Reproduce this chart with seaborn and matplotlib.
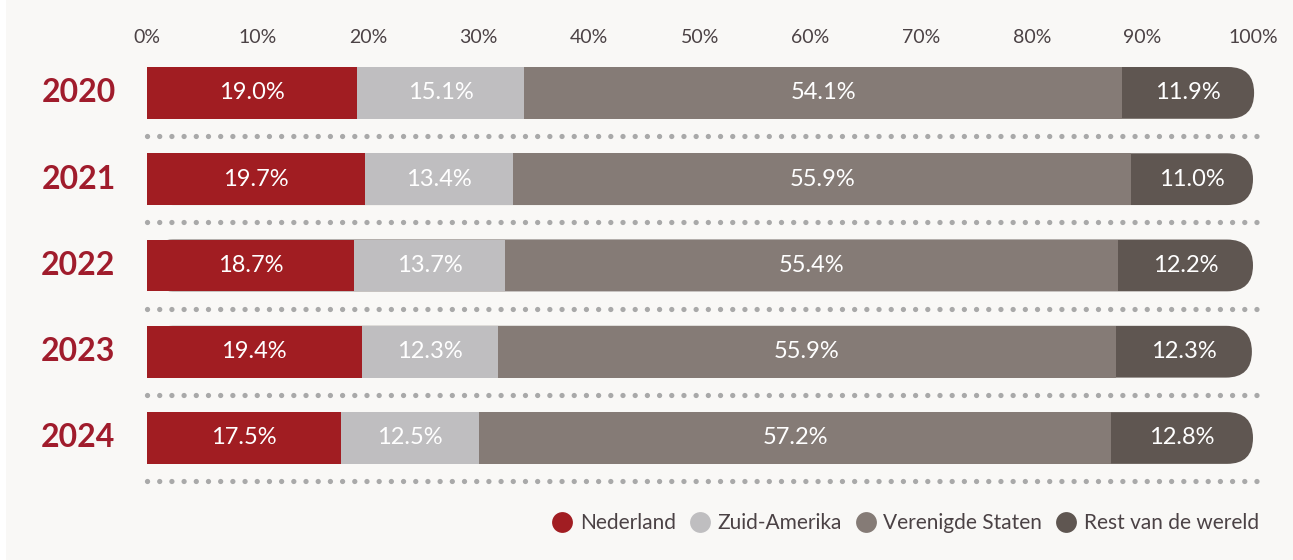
import matplotlib.pyplot as plt
import pandas as pd
import seaborn as sns
from matplotlib.lines import Line2D
from matplotlib.patches import FancyBboxPatch, Rectangle
from matplotlib.transforms import blended_transform_factory

years = ["2020", "2021", "2022", "2023", "2024"]
categories = ["Nederland", "Zuid-Amerika", "Verenigde Staten", "Rest van de wereld"]
nederland = [19.0, 19.7, 18.7, 19.4, 17.5]
zuid_amerika = [15.1, 13.4, 13.7, 12.3, 12.5]
verenigde_staten = [54.1, 55.9, 55.4, 55.9, 57.2]
rest_wereld = [11.9, 11.0, 12.2, 12.3, 12.8]
x_ticks = [0, 10, 20, 30, 40, 50, 60, 70, 80, 90, 100]

colors = ["#a11d22", "#bfbec0", "#857b76", "#5f5651"]
bg = "#f9f8f6"
text_col = "#4b4245"
year_col = "#a01c2c"

df = pd.DataFrame({
    "year": years,
    "Nederland": nederland,
    "Zuid-Amerika": zuid_amerika,
    "Verenigde Staten": verenigde_staten,
    "Rest van de wereld": rest_wereld,
})
cum = df[categories].cumsum(axis=1)
starts = cum - df[categories]

sns.set_theme(style="white")
plt.rcParams["font.family"] = ["Lato", "DejaVu Sans"]

W, H = 12.93, 5.60
fig = plt.figure(figsize=(W, H), dpi=100, facecolor="white")
fig.patches.append(Rectangle((6 / 1293, 0), 1, 1, transform=fig.transFigure,
                             facecolor=bg, edgecolor="none", zorder=-10))
ax_pos = [147 / 1293, 1 - 489.75 / 560, 1106 / 1293, 440 / 560]
ax = fig.add_axes(ax_pos)
ax.set_facecolor(bg)

bar_h = 0.6
ylim = (4.6, -0.5)
xlim = (0, 100)

# pixel scales to make the rounded end circular
px_per_x = ax_pos[2] * W * 100 / (xlim[1] - xlim[0])
px_per_y = ax_pos[3] * H * 100 / (ylim[0] - ylim[1])
radius_px = bar_h / 2 * px_per_y
aspect = (1 / px_per_y) / (1 / px_per_x)

# full row in the last colour with rounded right end
for i, total in enumerate(cum["Rest van de wereld"]):
    patch = FancyBboxPatch(
        (0, i - bar_h / 2), total, bar_h,
        boxstyle=f"round,pad=0,rounding_size={radius_px / px_per_x}",
        mutation_aspect=aspect, facecolor=colors[3], edgecolor="none",
        clip_on=False, zorder=1,
    )
    ax.add_patch(patch)

# stacked segments on top, largest cumulative first
for cat, col in zip(categories[2::-1], colors[2::-1]):
    sns.barplot(x=cum[cat], y=df["year"], orient="h", color=col, width=bar_h,
                errorbar=None, saturation=1, ax=ax, zorder=2)

for bar in ax.patches:
    bar.set_edgecolor("none")

# value labels
for i in range(len(years)):
    for cat in categories:
        v = df.loc[i, cat]
        ax.text(starts.loc[i, cat] + v / 2, i, f"{v:.1f}%", ha="center",
                va="center", color="white", fontsize=17, zorder=5)

# year labels
trans = blended_transform_factory(ax.transAxes, ax.transData)
for i, y in enumerate(years):
    ax.text(-0.062, i, y, transform=trans, ha="center", va="center",
            color=year_col, fontsize=23, fontweight="bold")

# dotted separators
ax.hlines([i + 0.5 for i in range(len(years))], 0, 100.5, colors="#a9a9a9",
          linewidth=3.8, linestyles=(0, (0.01, 2.3)), capstyle="round",
          clip_on=False, zorder=1)
for coll in ax.collections:
    coll.set_capstyle("round")

ax.set_xlim(*xlim)
ax.set_ylim(*ylim)
ax.xaxis.tick_top()
ax.set_xticks(x_ticks)
ax.set_xticklabels([f"{t}%" for t in x_ticks])
ax.tick_params(axis="x", length=0, pad=3, labelsize=14, labelcolor=text_col)
ax.set_yticks([])
ax.set_xlabel("")
ax.set_ylabel("")
for s in ax.spines.values():
    s.set_visible(False)

handles = [Line2D([], [], marker="o", linestyle="none", markersize=15,
                  markerfacecolor=c, markeredgecolor="none") for c in colors]
fig.legend(handles, categories, loc="center right",
           bbox_to_anchor=(1259 / 1293, 1 - 523 / 560), ncol=4, frameon=False,
           handlelength=1.0, handletextpad=0.35, columnspacing=0.65,
           borderpad=0, borderaxespad=0, prop={"size": 15},
           labelcolor=text_col)

fig.savefig("out.png", dpi=100, facecolor=fig.get_facecolor())
